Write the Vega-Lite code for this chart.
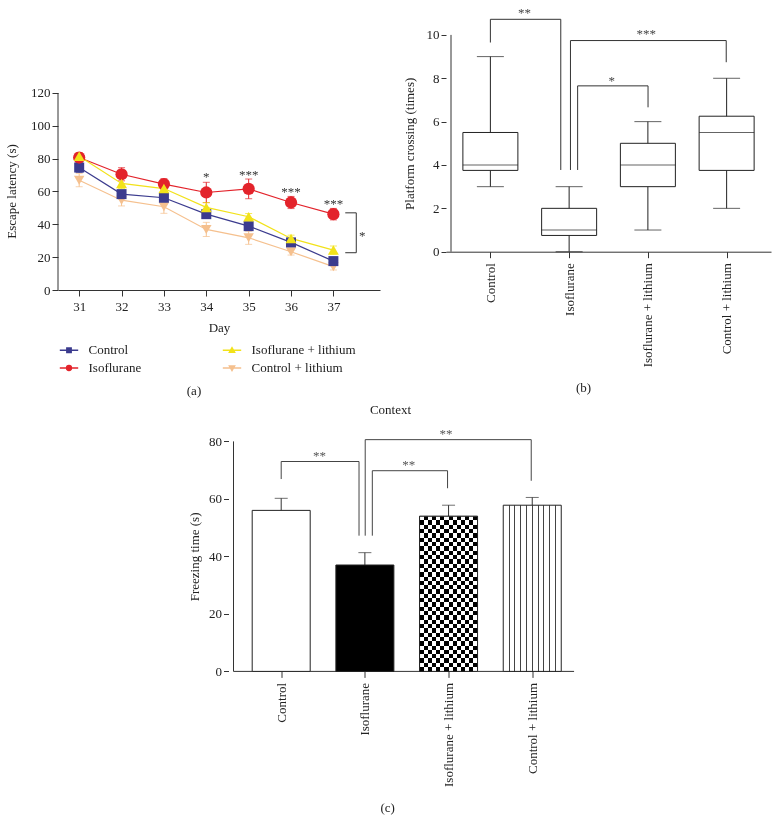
{
  "$schema": "https://vega.github.io/schema/vega-lite/v6.json",
  "background": "white",
  "padding": 5,
  "config": {
    "font": "Liberation Serif",
    "view": {"stroke": null},
    "axis": {"labelFont": "Liberation Serif", "titleFont": "Liberation Serif", "labelFontSize": 13, "titleFontSize": 13, "titleFontWeight": "normal", "labelColor": "#222", "titleColor": "#222", "domainColor": "#333", "tickColor": "#333", "grid": false, "tickSize": 5, "labelPadding": 2, "labelFlush": false, "labelOverlap": false},
    "title": {"font": "Liberation Serif", "fontSize": 13, "fontWeight": "normal", "color": "#222"},
    "legend": {"labelFont": "Liberation Serif", "labelFontSize": 13}
  },
  "spacing": 6,
  "center": true,
  "vconcat": [
    {
      "spacing": 23,
      "hconcat": [
        {
          "width": 322,
          "height": 285,
          "title": {"text": "(a)", "orient": "bottom", "offset": 51, "dx": -25},
          "data": {"values": [
            {"series": "Control", "day": 31, "mean": 74.6, "lo": 71.6, "hi": 77.6},
            {"series": "Control", "day": 32, "mean": 58.4, "lo": 56.4, "hi": 60.4},
            {"series": "Control", "day": 33, "mean": 56.2, "lo": 53.2, "hi": 59.2},
            {"series": "Control", "day": 34, "mean": 46.2, "lo": 44.2, "hi": 48.2},
            {"series": "Control", "day": 35, "mean": 38.9, "lo": 36.4, "hi": 41.4},
            {"series": "Control", "day": 36, "mean": 29.0, "lo": 27.0, "hi": 31.0},
            {"series": "Control", "day": 37, "mean": 17.6, "lo": 15.6, "hi": 19.6},
            {"series": "Isoflurane", "day": 31, "mean": 80.7, "lo": 77.7, "hi": 83.7},
            {"series": "Isoflurane", "day": 32, "mean": 70.5, "lo": 66.5, "hi": 74.5},
            {"series": "Isoflurane", "day": 33, "mean": 64.5, "lo": 61.2, "hi": 67.8},
            {"series": "Isoflurane", "day": 34, "mean": 59.4, "lo": 53.2, "hi": 65.6},
            {"series": "Isoflurane", "day": 35, "mean": 61.6, "lo": 55.6, "hi": 67.6},
            {"series": "Isoflurane", "day": 36, "mean": 53.3, "lo": 49.6, "hi": 57.0},
            {"series": "Isoflurane", "day": 37, "mean": 46.2, "lo": 42.7, "hi": 49.7},
            {"series": "Isoflurane + lithium", "day": 31, "mean": 81.5, "lo": 79.5, "hi": 83.5},
            {"series": "Isoflurane + lithium", "day": 32, "mean": 64.9, "lo": 61.9, "hi": 67.9},
            {"series": "Isoflurane + lithium", "day": 33, "mean": 61.8, "lo": 59.8, "hi": 63.8},
            {"series": "Isoflurane + lithium", "day": 34, "mean": 50.3, "lo": 47.3, "hi": 53.3},
            {"series": "Isoflurane + lithium", "day": 35, "mean": 44.6, "lo": 42.6, "hi": 46.6},
            {"series": "Isoflurane + lithium", "day": 36, "mean": 31.4, "lo": 29.4, "hi": 33.4},
            {"series": "Isoflurane + lithium", "day": 37, "mean": 24.3, "lo": 21.8, "hi": 26.8},
            {"series": "Control + lithium", "day": 31, "mean": 66.9, "lo": 62.9, "hi": 70.9},
            {"series": "Control + lithium", "day": 32, "mean": 54.7, "lo": 51.2, "hi": 58.2},
            {"series": "Control + lithium", "day": 33, "mean": 50.7, "lo": 46.7, "hi": 54.7},
            {"series": "Control + lithium", "day": 34, "mean": 36.9, "lo": 32.6, "hi": 41.2},
            {"series": "Control + lithium", "day": 35, "mean": 31.8, "lo": 27.8, "hi": 35.8},
            {"series": "Control + lithium", "day": 36, "mean": 23.3, "lo": 21.3, "hi": 25.3},
            {"series": "Control + lithium", "day": 37, "mean": 14.2, "lo": 12.2, "hi": 16.2}
          ]},
          "layer": [
            {
              "data": {"values": [{"day": 30.5, "val": 0, "val2": 120}]},
              "mark": {"type": "rule", "color": "#333", "strokeWidth": 1},
              "encoding": {
                "x": {"field": "day", "type": "quantitative", "scale": {"domain": [30.5, 38.1], "nice": false, "zero": false}, "title": "Day",
                      "axis": {"values": [31, 32, 33, 34, 35, 36, 37], "format": "d", "tickSize": 6, "labelPadding": 4, "titlePadding": 8}},
                "y": {"field": "val", "type": "quantitative", "scale": {"domain": [0, 173.6], "nice": false, "zero": false}, "title": "Escape latency (s)",
                      "axis": {"values": [0, 20, 40, 60, 80, 100, 120], "domain": false, "tickSize": 6, "labelPadding": 2, "titlePadding": 12, "titleY": 186}},
                "y2": {"field": "val2"}
              }
            },
            {
              "mark": {"type": "errorbar", "ticks": true, "size": 7, "thickness": 1},
              "encoding": {
                "x": {"field": "day", "type": "quantitative", "title": "Day"},
                "y": {"field": "lo", "type": "quantitative", "title": "Escape latency (s)"},
                "y2": {"field": "hi"},
                "color": {"field": "series", "type": "nominal", "scale": {"domain": ["Control", "Isoflurane + lithium", "Isoflurane", "Control + lithium"], "range": ["#3b3b8e", "#f2e21a", "#e3232b", "#f5c08e"]}, "legend": null}
              }
            },
            {
              "mark": {"type": "line", "strokeWidth": 1.2},
              "encoding": {
                "x": {"field": "day", "type": "quantitative", "title": "Day"},
                "y": {"field": "mean", "type": "quantitative", "title": "Escape latency (s)"},
                "color": {"field": "series", "type": "nominal", "legend": null}
              }
            },
            {
              "transform": [{"filter": "datum.series == 'Control + lithium'"}],
              "mark": {"type": "point", "shape": "triangle-down", "filled": true, "size": 110, "opacity": 1},
              "encoding": {
                "x": {"field": "day", "type": "quantitative", "title": "Day"},
                "y": {"field": "mean", "type": "quantitative", "title": "Escape latency (s)"},
                "color": {"field": "series", "type": "nominal", "legend": null}
              }
            },
            {
              "transform": [{"filter": "datum.series == 'Control'"}],
              "mark": {"type": "point", "shape": "square", "filled": true, "size": 100, "opacity": 1},
              "encoding": {
                "x": {"field": "day", "type": "quantitative", "title": "Day"},
                "y": {"field": "mean", "type": "quantitative", "title": "Escape latency (s)"},
                "color": {"field": "series", "type": "nominal", "legend": null}
              }
            },
            {
              "transform": [{"filter": "datum.series == 'Isoflurane'"}],
              "mark": {"type": "point", "shape": "circle", "filled": true, "size": 150, "opacity": 1},
              "encoding": {
                "x": {"field": "day", "type": "quantitative", "title": "Day"},
                "y": {"field": "mean", "type": "quantitative", "title": "Escape latency (s)"},
                "color": {"field": "series", "type": "nominal", "legend": null}
              }
            },
            {
              "transform": [{"filter": "datum.series == 'Isoflurane + lithium'"}],
              "mark": {"type": "point", "shape": "triangle-up", "filled": true, "size": 120, "opacity": 1},
              "encoding": {
                "x": {"field": "day", "type": "quantitative", "title": "Day"},
                "y": {"field": "mean", "type": "quantitative", "title": "Escape latency (s)"},
                "color": {"field": "series", "type": "nominal", "legend": null}
              }
            },
            {
              "data": {"values": [
                {"day": 34, "val": 70, "t": "*"},
                {"day": 35, "val": 71, "t": "***"},
                {"day": 36, "val": 61, "t": "***"},
                {"day": 37, "val": 53.8, "t": "***"},
                {"day": 37.68, "val": 34, "t": "*"}
              ]},
              "mark": {"type": "text", "fontSize": 13, "color": "#333", "baseline": "alphabetic", "dy": 6, "font": "Liberation Serif"},
              "encoding": {
                "x": {"field": "day", "type": "quantitative", "title": "Day"},
                "y": {"field": "val", "type": "quantitative", "title": "Escape latency (s)"},
                "text": {"field": "t"}
              }
            },
            {
              "data": {"values": [
                {"day": 37.28, "val": 47, "o": 1},
                {"day": 37.54, "val": 47, "o": 2},
                {"day": 37.54, "val": 22.7, "o": 3},
                {"day": 37.28, "val": 22.7, "o": 4}
              ]},
              "mark": {"type": "line", "color": "#333", "strokeWidth": 1},
              "encoding": {
                "x": {"field": "day", "type": "quantitative", "title": "Day"},
                "y": {"field": "val", "type": "quantitative", "title": "Escape latency (s)"},
                "order": {"field": "o", "type": "quantitative"}
              }
            },
            {
              "transform": [{"filter": "false"}],
              "mark": {"type": "point", "filled": true, "size": 100, "strokeWidth": 1.3, "opacity": 1},
              "encoding": {
                "fill": {"field": "series", "type": "nominal",
                         "scale": {"domain": ["Control", "Isoflurane", "Isoflurane + lithium", "Control + lithium"], "range": ["#3b3b8e", "#e3232b", "#f2e21a", "#f5c08e"]},
                         "legend": {"orient": "none", "legendX": 4.5, "legendY": 338.5, "columns": 2, "columnPadding": 78, "rowPadding": 4, "symbolSize": 100, "symbolStrokeWidth": 1.3, "labelOffset": 13, "title": null, "padding": 0, "labelFontSize": 13, "labelColor": "#222"}},
                "stroke": {"field": "series", "type": "nominal",
                           "scale": {"domain": ["Control", "Isoflurane", "Isoflurane + lithium", "Control + lithium"], "range": ["#3b3b8e", "#e3232b", "#f2e21a", "#f5c08e"]},
                           "legend": {"orient": "none", "legendX": 4.5, "legendY": 338.5, "columns": 2, "columnPadding": 78, "rowPadding": 4, "symbolSize": 100, "symbolStrokeWidth": 1.3, "labelOffset": 13, "title": null, "padding": 0, "labelFontSize": 13, "labelColor": "#222"}},
                "shape": {"field": "series", "type": "nominal",
                          "scale": {"domain": ["Control", "Isoflurane", "Isoflurane + lithium", "Control + lithium"],
                                    "range": ["M-1.84,0H1.84M-0.45,-0.45H0.45V0.45H-0.45Z", "M-1.84,0H1.84M0.5,0A0.5,0.5,0,1,1,-0.5,0A0.5,0.5,0,1,1,0.5,0Z", "M-1.84,0H1.84M0,-0.55L0.55,0.4L-0.55,0.4Z", "M-1.84,0H1.84M0,0.55L0.55,-0.4L-0.55,-0.4Z"]},
                          "legend": {"orient": "none", "legendX": 4.5, "legendY": 338.5, "columns": 2, "columnPadding": 78, "rowPadding": 4, "symbolSize": 100, "symbolStrokeWidth": 1.3, "labelOffset": 13, "title": null, "padding": 0, "labelFontSize": 13, "labelColor": "#222"}}
              }
            }
          ]
        },
        {
          "width": 325,
          "height": 246.7,
          "title": {"text": "(b)", "orient": "bottom", "offset": 15, "dx": -25},
          "data": {"values": [
            {"g": 1, "min": 3, "q1": 3.75, "med": 4, "q3": 5.5, "max": 9},
            {"g": 2, "min": 0, "q1": 0.75, "med": 1, "q3": 2, "max": 3},
            {"g": 3, "min": 1, "q1": 3, "med": 4, "q3": 5, "max": 6},
            {"g": 4, "min": 2, "q1": 3.75, "med": 5.5, "q3": 6.25, "max": 8}
          ]},
          "layer": [
            {
              "data": {"values": [{"g": 0.5, "v": 0, "v2": 10}]},
              "mark": {"type": "rule", "color": "#333", "strokeWidth": 1},
              "encoding": {
                "x": {"field": "g", "type": "quantitative", "scale": {"domain": [0.5, 4.5], "nice": false, "zero": false}, "title": null,
                      "axis": {"values": [1, 2, 3, 4], "labelAngle": -90, "labelAlign": "right", "labelBaseline": "middle", "tickSize": 6, "labelPadding": 5,
                               "labelExpr": "datum.value == 1 ? 'Control' : datum.value == 2 ? 'Isoflurane' : datum.value == 3 ? 'Isoflurane + lithium' : 'Control + lithium'"}},
                "y": {"field": "v", "type": "quantitative", "scale": {"domain": [0, 11.38], "nice": false, "zero": false}, "title": "Platform crossing (times)",
                      "axis": {"values": [0, 2, 4, 6, 8, 10], "domain": false, "tickSize": 5, "labelPadding": 2, "titlePadding": 10, "titleY": 138.3}},
                "y2": {"field": "v2"}
              }
            },
            {
              "mark": {"type": "rule", "color": "#222", "strokeWidth": 1},
              "encoding": {
                "x": {"field": "g", "type": "quantitative", "title": null},
                "y": {"field": "min", "type": "quantitative", "title": "Platform crossing (times)"},
                "y2": {"field": "max"}
              }
            },
            {
              "mark": {"type": "bar", "size": 55, "fill": "white", "stroke": "#222", "strokeWidth": 1},
              "encoding": {
                "x": {"field": "g", "type": "quantitative", "title": null},
                "y": {"field": "q1", "type": "quantitative", "title": "Platform crossing (times)"},
                "y2": {"field": "q3"}
              }
            },
            {
              "mark": {"type": "tick", "orient": "horizontal", "size": 55, "thickness": 1, "color": "#222"},
              "encoding": {
                "x": {"field": "g", "type": "quantitative", "title": null},
                "y": {"field": "med", "type": "quantitative", "title": "Platform crossing (times)"}
              }
            },
            {
              "mark": {"type": "tick", "orient": "horizontal", "size": 27, "thickness": 1, "color": "#222"},
              "encoding": {
                "x": {"field": "g", "type": "quantitative", "title": null},
                "y": {"field": "min", "type": "quantitative", "title": "Platform crossing (times)"}
              }
            },
            {
              "mark": {"type": "tick", "orient": "horizontal", "size": 27, "thickness": 1, "color": "#222"},
              "encoding": {
                "x": {"field": "g", "type": "quantitative", "title": null},
                "y": {"field": "max", "type": "quantitative", "title": "Platform crossing (times)"}
              }
            },
            {
              "data": {"values": [
                {"id": "A", "o": 1, "g": 1.0, "v": 9.65},
                {"id": "A", "o": 2, "g": 1.0, "v": 10.72},
                {"id": "A", "o": 3, "g": 1.894, "v": 10.72},
                {"id": "A", "o": 4, "g": 1.894, "v": 3.77},
                {"id": "B", "o": 1, "g": 2.017, "v": 3.77},
                {"id": "B", "o": 2, "g": 2.017, "v": 9.74},
                {"id": "B", "o": 3, "g": 3.995, "v": 9.74},
                {"id": "B", "o": 4, "g": 3.995, "v": 8.74},
                {"id": "C", "o": 1, "g": 2.108, "v": 3.77},
                {"id": "C", "o": 2, "g": 2.108, "v": 7.65},
                {"id": "C", "o": 3, "g": 3.002, "v": 7.65},
                {"id": "C", "o": 4, "g": 3.002, "v": 6.66}
              ]},
              "mark": {"type": "line", "color": "#333", "strokeWidth": 1},
              "encoding": {
                "x": {"field": "g", "type": "quantitative", "title": null},
                "y": {"field": "v", "type": "quantitative", "title": "Platform crossing (times)"},
                "detail": {"field": "id"},
                "order": {"field": "o", "type": "quantitative"}
              }
            },
            {
              "data": {"values": [
                {"g": 1.432, "v": 11.12, "t": "**"},
                {"g": 2.98, "v": 10.12, "t": "***"},
                {"g": 2.54, "v": 7.97, "t": "*"}
              ]},
              "mark": {"type": "text", "fontSize": 13, "color": "#444", "baseline": "alphabetic", "dy": 6, "font": "Liberation Serif"},
              "encoding": {
                "x": {"field": "g", "type": "quantitative", "title": null},
                "y": {"field": "v", "type": "quantitative", "title": "Platform crossing (times)"},
                "text": {"field": "t"}
              }
            }
          ]
        }
      ]
    },
    {
      "width": 372,
      "height": 244.4,
      "title": {"text": "Context", "anchor": "middle", "offset": 10, "dx": -24},
      "data": {"values": [
        {"g": 1, "mean": 56, "hi": 60.2},
        {"g": 2, "mean": 37, "hi": 41.3},
        {"g": 3, "mean": 54, "hi": 57.8},
        {"g": 4, "mean": 57.8, "hi": 60.5}
      ]},
      "layer": [
        {
          "data": {"values": [{"g": 0.43, "v": 0, "v2": 80}]},
          "mark": {"type": "rule", "color": "#333", "strokeWidth": 1},
          "encoding": {
            "x": {"field": "g", "type": "quantitative", "scale": {"domain": [0.43, 4.756], "nice": false, "zero": false}, "title": "(c)",
                  "axis": {"values": [1, 2, 3, 4], "domain": false, "labelAngle": -90, "labelAlign": "right", "labelBaseline": "middle", "tickSize": 6, "labelPadding": 5, "titlePadding": 15, "titleX": 158.7,
                           "labelExpr": "datum.value == 1 ? 'Control' : datum.value == 2 ? 'Isoflurane' : datum.value == 3 ? 'Isoflurane + lithium' : 'Control + lithium'"}},
            "y": {"field": "v", "type": "quantitative", "scale": {"domain": [0, 85], "nice": false, "zero": false}, "title": "Freezing time (s)",
                  "axis": {"values": [0, 20, 40, 60, 80], "domain": false, "tickSize": 5, "labelPadding": 2, "titlePadding": 7, "titleY": 129.4}},
            "y2": {"field": "v2"}
          }
        },
        {
          "data": {"values": [{"g": 0.43, "g2": 4.5, "v": 0}]},
          "mark": {"type": "rule", "color": "#333", "strokeWidth": 1},
          "encoding": {
            "x": {"field": "g", "type": "quantitative", "title": "(c)"},
            "x2": {"field": "g2"},
            "y": {"field": "v", "type": "quantitative", "title": "Freezing time (s)"}
          }
        },
        {
          "mark": {"type": "rule", "color": "#333", "strokeWidth": 1},
          "encoding": {
            "x": {"field": "g", "type": "quantitative", "title": "(c)"},
            "y": {"field": "mean", "type": "quantitative", "title": "Freezing time (s)"},
            "y2": {"field": "hi"}
          }
        },
        {
          "mark": {"type": "tick", "orient": "horizontal", "size": 13, "thickness": 1, "color": "#333"},
          "encoding": {
            "x": {"field": "g", "type": "quantitative", "title": "(c)"},
            "y": {"field": "hi", "type": "quantitative", "title": "Freezing time (s)"}
          }
        },
        {
          "transform": [{"filter": "datum.g == 1"}],
          "mark": {"type": "bar", "size": 58, "fill": "white", "stroke": "#222", "strokeWidth": 1},
          "encoding": {
            "x": {"field": "g", "type": "quantitative", "title": "(c)"},
            "y": {"field": "mean", "type": "quantitative", "title": "Freezing time (s)"}
          }
        },
        {
          "transform": [{"filter": "datum.g == 2"}],
          "mark": {"type": "bar", "size": 58, "fill": "black", "stroke": "#222", "strokeWidth": 1},
          "encoding": {
            "x": {"field": "g", "type": "quantitative", "title": "(c)"},
            "y": {"field": "mean", "type": "quantitative", "title": "Freezing time (s)"}
          }
        },
        {
          "transform": [{"filter": "datum.g == 4"}],
          "mark": {"type": "bar", "size": 58, "stroke": "#222", "strokeWidth": 1,
                   "fill": {"gradient": "linear", "x1": 0, "y1": 0, "x2": 1, "y2": 0, "stops": [
                     {"offset": 0, "color": "#fff"}, {"offset": 0.091, "color": "#fff"}, {"offset": 0.091, "color": "#444"}, {"offset": 0.109, "color": "#444"}, {"offset": 0.109, "color": "#fff"},
                     {"offset": 0.191, "color": "#fff"}, {"offset": 0.191, "color": "#444"}, {"offset": 0.209, "color": "#444"}, {"offset": 0.209, "color": "#fff"},
                     {"offset": 0.291, "color": "#fff"}, {"offset": 0.291, "color": "#444"}, {"offset": 0.309, "color": "#444"}, {"offset": 0.309, "color": "#fff"},
                     {"offset": 0.391, "color": "#fff"}, {"offset": 0.391, "color": "#444"}, {"offset": 0.409, "color": "#444"}, {"offset": 0.409, "color": "#fff"},
                     {"offset": 0.491, "color": "#fff"}, {"offset": 0.491, "color": "#444"}, {"offset": 0.509, "color": "#444"}, {"offset": 0.509, "color": "#fff"},
                     {"offset": 0.591, "color": "#fff"}, {"offset": 0.591, "color": "#444"}, {"offset": 0.609, "color": "#444"}, {"offset": 0.609, "color": "#fff"},
                     {"offset": 0.691, "color": "#fff"}, {"offset": 0.691, "color": "#444"}, {"offset": 0.709, "color": "#444"}, {"offset": 0.709, "color": "#fff"},
                     {"offset": 0.791, "color": "#fff"}, {"offset": 0.791, "color": "#444"}, {"offset": 0.809, "color": "#444"}, {"offset": 0.809, "color": "#fff"},
                     {"offset": 0.891, "color": "#fff"}, {"offset": 0.891, "color": "#444"}, {"offset": 0.909, "color": "#444"}, {"offset": 0.909, "color": "#fff"},
                     {"offset": 1, "color": "#fff"}
                   ]}},
          "encoding": {
            "x": {"field": "g", "type": "quantitative", "title": "(c)"},
            "y": {"field": "mean", "type": "quantitative", "title": "Freezing time (s)"}
          }
        },
        {
          "transform": [{"filter": "datum.g == 3"}],
          "mark": {"type": "bar", "size": 58, "strokeWidth": 0,
                   "fill": {"gradient": "linear", "x1": 0, "y1": 0, "x2": 1, "y2": 0, "stops": [
                     {"offset": 0, "color": "#000"}, {"offset": 0.0714, "color": "#000"}, {"offset": 0.0714, "color": "#fff"}, {"offset": 0.1429, "color": "#fff"},
                     {"offset": 0.1429, "color": "#000"}, {"offset": 0.2143, "color": "#000"}, {"offset": 0.2143, "color": "#fff"}, {"offset": 0.2857, "color": "#fff"},
                     {"offset": 0.2857, "color": "#000"}, {"offset": 0.3571, "color": "#000"}, {"offset": 0.3571, "color": "#fff"}, {"offset": 0.4286, "color": "#fff"},
                     {"offset": 0.4286, "color": "#000"}, {"offset": 0.5, "color": "#000"}, {"offset": 0.5, "color": "#fff"}, {"offset": 0.5714, "color": "#fff"},
                     {"offset": 0.5714, "color": "#000"}, {"offset": 0.6429, "color": "#000"}, {"offset": 0.6429, "color": "#fff"}, {"offset": 0.7143, "color": "#fff"},
                     {"offset": 0.7143, "color": "#000"}, {"offset": 0.7857, "color": "#000"}, {"offset": 0.7857, "color": "#fff"}, {"offset": 0.8571, "color": "#fff"},
                     {"offset": 0.8571, "color": "#000"}, {"offset": 0.9286, "color": "#000"}, {"offset": 0.9286, "color": "#fff"}, {"offset": 1, "color": "#fff"}
                   ]}},
          "encoding": {
            "x": {"field": "g", "type": "quantitative", "title": "(c)"},
            "y": {"field": "mean", "type": "quantitative", "title": "Freezing time (s)"}
          }
        },
        {
          "transform": [{"filter": "datum.g == 3"}],
          "mark": {"type": "bar", "size": 58, "strokeWidth": 0, "blend": "difference",
                   "fill": {"gradient": "linear", "x1": 0, "y1": 0, "x2": 0, "y2": 1, "stops": [
                     {"offset": 0, "color": "#fff"}, {"offset": 0.0278, "color": "#fff"}, {"offset": 0.0278, "color": "#000"}, {"offset": 0.0556, "color": "#000"},
                     {"offset": 0.0556, "color": "#fff"}, {"offset": 0.0833, "color": "#fff"}, {"offset": 0.0833, "color": "#000"}, {"offset": 0.1111, "color": "#000"},
                     {"offset": 0.1111, "color": "#fff"}, {"offset": 0.1389, "color": "#fff"}, {"offset": 0.1389, "color": "#000"}, {"offset": 0.1667, "color": "#000"},
                     {"offset": 0.1667, "color": "#fff"}, {"offset": 0.1944, "color": "#fff"}, {"offset": 0.1944, "color": "#000"}, {"offset": 0.2222, "color": "#000"},
                     {"offset": 0.2222, "color": "#fff"}, {"offset": 0.25, "color": "#fff"}, {"offset": 0.25, "color": "#000"}, {"offset": 0.2778, "color": "#000"},
                     {"offset": 0.2778, "color": "#fff"}, {"offset": 0.3056, "color": "#fff"}, {"offset": 0.3056, "color": "#000"}, {"offset": 0.3333, "color": "#000"},
                     {"offset": 0.3333, "color": "#fff"}, {"offset": 0.3611, "color": "#fff"}, {"offset": 0.3611, "color": "#000"}, {"offset": 0.3889, "color": "#000"},
                     {"offset": 0.3889, "color": "#fff"}, {"offset": 0.4167, "color": "#fff"}, {"offset": 0.4167, "color": "#000"}, {"offset": 0.4444, "color": "#000"},
                     {"offset": 0.4444, "color": "#fff"}, {"offset": 0.4722, "color": "#fff"}, {"offset": 0.4722, "color": "#000"}, {"offset": 0.5, "color": "#000"},
                     {"offset": 0.5, "color": "#fff"}, {"offset": 0.5278, "color": "#fff"}, {"offset": 0.5278, "color": "#000"}, {"offset": 0.5556, "color": "#000"},
                     {"offset": 0.5556, "color": "#fff"}, {"offset": 0.5833, "color": "#fff"}, {"offset": 0.5833, "color": "#000"}, {"offset": 0.6111, "color": "#000"},
                     {"offset": 0.6111, "color": "#fff"}, {"offset": 0.6389, "color": "#fff"}, {"offset": 0.6389, "color": "#000"}, {"offset": 0.6667, "color": "#000"},
                     {"offset": 0.6667, "color": "#fff"}, {"offset": 0.6944, "color": "#fff"}, {"offset": 0.6944, "color": "#000"}, {"offset": 0.7222, "color": "#000"},
                     {"offset": 0.7222, "color": "#fff"}, {"offset": 0.75, "color": "#fff"}, {"offset": 0.75, "color": "#000"}, {"offset": 0.7778, "color": "#000"},
                     {"offset": 0.7778, "color": "#fff"}, {"offset": 0.8056, "color": "#fff"}, {"offset": 0.8056, "color": "#000"}, {"offset": 0.8333, "color": "#000"},
                     {"offset": 0.8333, "color": "#fff"}, {"offset": 0.8611, "color": "#fff"}, {"offset": 0.8611, "color": "#000"}, {"offset": 0.8889, "color": "#000"},
                     {"offset": 0.8889, "color": "#fff"}, {"offset": 0.9167, "color": "#fff"}, {"offset": 0.9167, "color": "#000"}, {"offset": 0.9444, "color": "#000"},
                     {"offset": 0.9444, "color": "#fff"}, {"offset": 0.9722, "color": "#fff"}, {"offset": 0.9722, "color": "#000"}, {"offset": 1, "color": "#000"}
                   ]}},
          "encoding": {
            "x": {"field": "g", "type": "quantitative", "title": "(c)"},
            "y": {"field": "mean", "type": "quantitative", "title": "Freezing time (s)"}
          }
        },
        {
          "transform": [{"filter": "datum.g == 3"}],
          "mark": {"type": "bar", "size": 58, "fillOpacity": 0, "stroke": "#222", "strokeWidth": 1},
          "encoding": {
            "x": {"field": "g", "type": "quantitative", "title": "(c)"},
            "y": {"field": "mean", "type": "quantitative", "title": "Freezing time (s)"}
          }
        },
        {
          "data": {"values": [
            {"id": "P", "o": 1, "g": 1.0, "v": 66.9},
            {"id": "P", "o": 2, "g": 1.0, "v": 73.0},
            {"id": "P", "o": 3, "g": 1.93, "v": 73.0},
            {"id": "P", "o": 4, "g": 1.93, "v": 47.2},
            {"id": "Q", "o": 1, "g": 2.004, "v": 47.2},
            {"id": "Q", "o": 2, "g": 2.004, "v": 80.6},
            {"id": "Q", "o": 3, "g": 3.988, "v": 80.6},
            {"id": "Q", "o": 4, "g": 3.988, "v": 66.3},
            {"id": "R", "o": 1, "g": 2.089, "v": 47.2},
            {"id": "R", "o": 2, "g": 2.089, "v": 69.8},
            {"id": "R", "o": 3, "g": 2.988, "v": 69.8},
            {"id": "R", "o": 4, "g": 2.988, "v": 63.7}
          ]},
          "mark": {"type": "line", "color": "#444", "strokeWidth": 1},
          "encoding": {
            "x": {"field": "g", "type": "quantitative", "title": "(c)"},
            "y": {"field": "v", "type": "quantitative", "title": "Freezing time (s)"},
            "detail": {"field": "id"},
            "order": {"field": "o", "type": "quantitative"}
          }
        },
        {
          "data": {"values": [
            {"g": 1.458, "v": 75.6, "t": "**"},
            {"g": 2.97, "v": 83.4, "t": "**"},
            {"g": 2.523, "v": 72.5, "t": "**"}
          ]},
          "mark": {"type": "text", "fontSize": 13, "color": "#555", "baseline": "alphabetic", "dy": 6, "font": "Liberation Serif"},
          "encoding": {
            "x": {"field": "g", "type": "quantitative", "title": "(c)"},
            "y": {"field": "v", "type": "quantitative", "title": "Freezing time (s)"},
            "text": {"field": "t"}
          }
        }
      ]
    }
  ]
}
